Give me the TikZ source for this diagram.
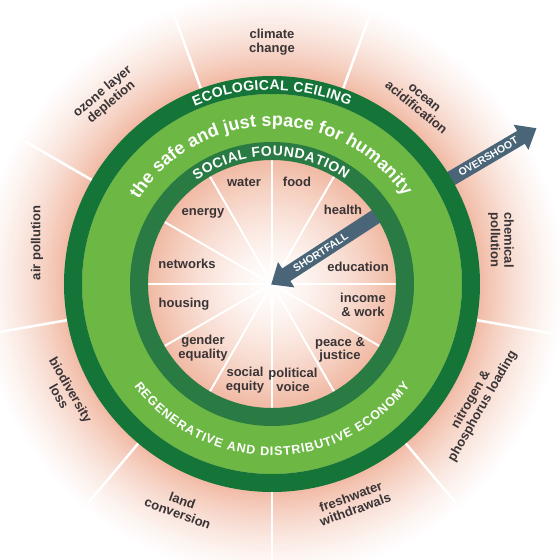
\documentclass[tikz,border=0pt]{standalone}
\usepackage{fontspec}
\setmainfont{Liberation Sans}
\usetikzlibrary{arrows.meta,decorations.text}
\definecolor{outerg}{RGB}{21,117,56}
\definecolor{innerg}{RGB}{42,122,68}
\definecolor{lightg}{RGB}{109,184,68}
\definecolor{pinkc}{RGB}{241,186,164}
\definecolor{arrowc}{RGB}{74,101,120}
\definecolor{labc}{RGB}{58,52,54}
\newcommand\labfont{\fontsize{13}{13.5}\selectfont\bfseries}
\newcommand\ringA{\fontsize{14}{14}\selectfont\bfseries}
\newcommand\ringB{\fontsize{18}{18}\selectfont\bfseries}
\newcommand\ringC{\fontsize{12.5}{12.5}\selectfont\bfseries}
\newcommand\arrfont{\fontsize{10.5}{10.5}\selectfont\bfseries}
\tikzset{
  lab/.style={font=\labfont, text=labc, align=center, inner sep=0pt},
  spokeo/.style={white, line width=2.5pt},
  spokei/.style={white, line width=2pt},
  arrowline/.style={arrowc, line width=15pt, -{Triangle[width=29pt,length=18pt]}},
  arrtext/.style={font=\arrfont, text=white, inner sep=0pt},
}
\begin{document}
\begin{tikzpicture}
\useasboundingbox (-272pt,-276pt) rectangle (288pt,284pt);
\fill[white] (-272pt,-276pt) rectangle (288pt,284pt);
% outer halo
\foreach \i in {0,...,43}{
  \pgfmathsetlengthmacro\rr{294pt-2pt*\i}
  \pgfmathsetmacro\pp{100*(\i/43)*(0.55+0.45*\i/43)}
  \fill[pinkc!\pp!white] (0pt,0pt) circle[radius=\rr];
}
% outer spokes
\foreach \a in {110,150,...,430}{
  \draw[spokeo] (\a:206pt) -- (\a:286pt);
}
% overshoot arrow
\coordinate (osTail) at (30.5:199pt);
\coordinate (osTip) at (30.5:307pt);
\draw[arrowc, line width=15pt, -{Triangle[width=28pt,length=18pt]}] (osTail) -- (osTip);
\node[arrtext, rotate=30.5] (osText) at (30.5:251pt) {OVERSHOOT};
% rings
\fill[lightg] (0pt,0pt) circle[radius=190pt];
\draw[outerg, line width=18pt] (0pt,0pt) circle[radius=199pt];
% inner disk
\foreach \i in {0,...,66}{
  \pgfmathsetlengthmacro\rr{134pt-2pt*\i}
  \pgfmathsetmacro\pp{min(100,100*((134-2*\i)/124)*(0.45+0.55*(134-2*\i)/124))}
  \fill[pinkc!\pp!white] (0pt,0pt) circle[radius=\rr];
}
% inner spokes
\foreach \a in {0,30,...,330}{
  \draw[spokei] (0pt,0pt) -- (\a:126pt);
}
% shortfall arrow
\coordinate (sfTail) at (33:133pt);
\coordinate (sfTip) at (213:1pt);
\draw[arrowline] (sfTail) -- (sfTip);
\node[arrtext, rotate=33] (sfText) at (33:58pt) {SHORTFALL};
\draw[innerg, line width=18pt] (0pt,0pt) circle[radius=133pt];
% ring texts
\path[decorate, decoration={text along path, text={|\ringA|ECOLOGICAL CEILING}, text align={fit to path}, text color=white}]
  (113.5:194pt) arc[start angle=113.5, end angle=66.5, radius=194pt];
\path[decorate, decoration={text along path, text={|\ringB|the safe and just space for humanity}, text align={fit to path}, text color=white}]
  (147.5:158pt) arc[start angle=147.5, end angle=33.5, radius=158pt];
\path[decorate, decoration={text along path, text={|\ringA|SOCIAL FOUNDATION}, text align={fit to path}, text color=white}]
  (126:128pt) arc[start angle=126, end angle=55, radius=128pt];
\path[decorate, decoration={text along path, text={|\ringC|REGENERATIVE AND DISTRIBUTIVE ECONOMY}, text align={fit to path}, text color=white}]
  (-143.5:171.5pt) arc[start angle=-143.5, end angle=-36.5, radius=171.5pt];
% social foundation labels
\node[lab] (water) at (-28pt,102pt) {water};
\node[lab] (food) at (25pt,102pt) {food};
\node[lab] (health) at (71pt,74pt) {health};
\node[lab] (education) at (86pt,17pt) {education};
\node[lab] (income) at (91pt,-21pt) {income\\\& work};
\node[lab] (peace) at (68pt,-66pt) {peace \&\\justice};
\node[lab] (political) at (21pt,-96pt) {political\\voice};
\node[lab] (socialeq) at (-27pt,-96pt) {social\\equity};
\node[lab] (gender) at (-69pt,-64pt) {gender\\equality};
\node[lab] (housing) at (-88pt,-20pt) {housing};
\node[lab] (networks) at (-85pt,20pt) {networks};
\node[lab] (energy) at (-69pt,71pt) {energy};
% ecological ceiling labels
\node[lab] (climate) at (0pt,242pt) {climate\\change};
\node[lab, rotate=-39.5] (ocean) at (148pt,181pt) {ocean\\acidification};
\node[lab, rotate=-90] (chem) at (229pt,44pt) {chemical\\pollution};
\node[lab, rotate=60] (nitro) at (205pt,-119pt) {nitrogen \&\\phosphorus loading};
\node[lab, rotate=20] (fresh) at (81pt,-219pt) {freshwater\\withdrawals};
\node[lab, rotate=-20] (land) at (-92pt,-223pt) {land\\conversion};
\node[lab, rotate=-60] (bio) at (-207pt,-109pt) {biodiversity\\loss};
\node[lab, rotate=90] (air) at (-235pt,41pt) {air pollution};
\node[lab, rotate=40] (ozone) at (-165pt,187pt) {ozone layer\\depletion};
\end{tikzpicture}
\end{document}
